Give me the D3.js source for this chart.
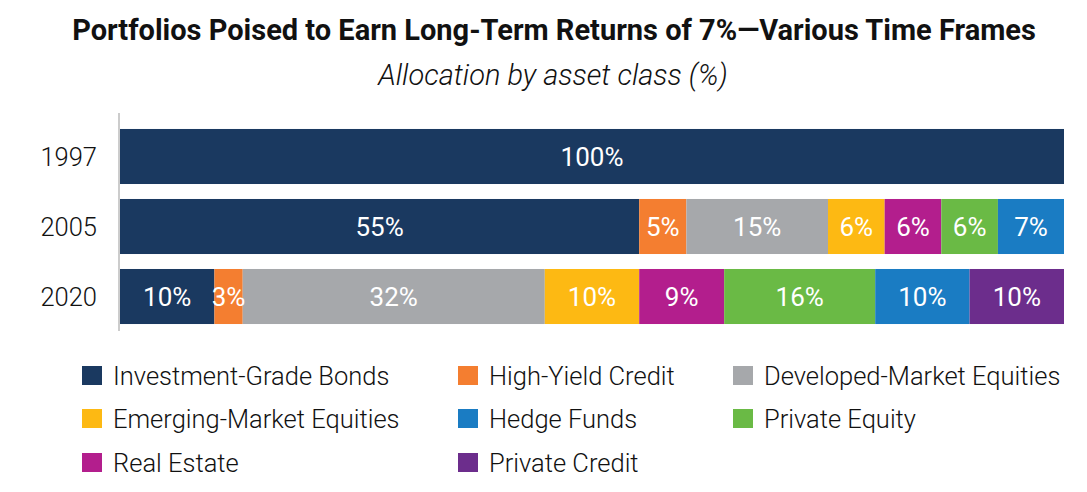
<!DOCTYPE html>
<html><head><meta charset="utf-8">
<script src="https://cdn.jsdelivr.net/npm/d3@7"></script>
<style>
body{margin:0;background:#fff;}
text{font-family:Roboto,"Noto Sans",sans-serif;}
</style></head><body>
<svg id="c" width="1087" height="492"></svg>
<script>
const years = ["1997","2005","2020"];
const assetClasses = ["Investment-Grade Bonds","High-Yield Credit","Developed-Market Equities","Emerging-Market Equities","Real Estate","Private Equity","Hedge Funds","Private Credit"];
const colors = ["#1a3960","#f47e30","#a6a8ab","#fdb913","#b31e8d","#6aba45","#1a7cc3","#6c2d8c"];
const values1997 = [100,0,0,0,0,0,0,0];
const values2005 = [55,5,15,6,6,6,7,0];
const values2020 = [10,3,32,10,9,16,10,10];
const legendOrder = ["Investment-Grade Bonds","High-Yield Credit","Developed-Market Equities","Emerging-Market Equities","Hedge Funds","Private Equity","Real Estate","Private Credit"];

const svg = d3.select("#c");
const rows = [values1997, values2005, values2020];
const x = d3.scaleLinear().domain([0,100]).range([120,1064]);
const y = d3.scaleBand().domain(years).range([114,339]).paddingInner(0.214).paddingOuter(0.214);
const color = d3.scaleOrdinal().domain(assetClasses).range(colors);

svg.append("text").attr("x",554).attr("y",39.5).attr("text-anchor","middle")
  .attr("font-size",29).attr("font-weight",700).attr("fill","#111")
  .text("Portfolios Poised to Earn Long-Term Returns of 7%—Various Time Frames");
svg.append("text").attr("x",553).attr("y",85).attr("text-anchor","middle")
  .attr("font-size",29).attr("font-style","italic").attr("font-weight",300).attr("fill","#111")
  .text("Allocation by asset class (%)");

years.forEach((yr,i)=>{
  let acc = 0;
  const segs = [];
  rows[i].forEach((v,j)=>{ if(v>0){ segs.push({k:assetClasses[j], v, x0:acc, x1:acc+v}); } acc+=v; });
  const g = svg.append("g");
  g.selectAll("rect").data(segs).join("rect")
    .attr("x",d=>x(d.x0)).attr("width",d=>x(d.x1)-x(d.x0))
    .attr("y",y(yr)).attr("height",y.bandwidth()).attr("fill",d=>color(d.k));
  g.selectAll("text").data(segs).join("text")
    .attr("x",d=>(x(d.x0)+x(d.x1))/2).attr("y",y(yr)+y.bandwidth()/2+9.5)
    .attr("text-anchor","middle").attr("fill","#fff").attr("font-size",26)
    .text(d=>d.v+"%");
});

const yAxis = d3.axisLeft(y).tickSize(0).tickPadding(22);
const ya = svg.append("g").attr("transform","translate(119,0)").call(yAxis);
ya.select(".domain").remove();
ya.selectAll("text").attr("font-size",25.5).attr("font-weight",300).attr("fill","#111").attr("font-family","Roboto").attr("dy","0.36em");
svg.append("line").attr("x1",119).attr("x2",119).attr("y1",113).attr("y2",331).attr("stroke","#ccc").attr("stroke-width",2);

const colX = [82,458,733], rowY = [376,419,463];
const lg = svg.append("g");
legendOrder.forEach((k,i)=>{
  const cx = colX[i%3], cy = rowY[Math.floor(i/3)];
  lg.append("rect").attr("x",cx).attr("y",cy-10).attr("width",20).attr("height",19).attr("fill",color(k));
  lg.append("text").attr("x",cx+31).attr("y",cy+8.5).attr("font-size",25.5).attr("font-weight",300).attr("fill","#111").text(k);
});
</script></body></html>
